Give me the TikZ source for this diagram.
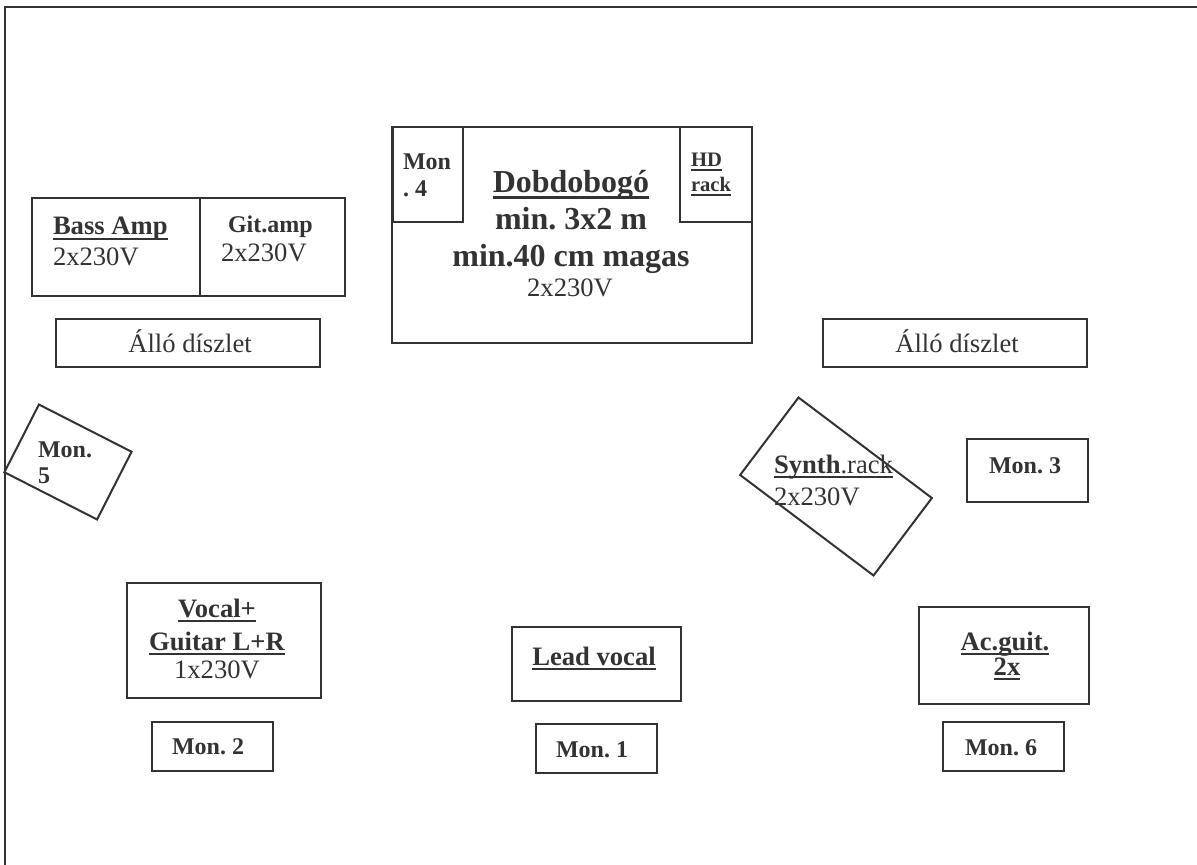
\documentclass[tikz,border=0pt]{standalone}
\usepackage{fontspec}
\setmainfont{Liberation Serif}
\frenchspacing
\definecolor{ink}{gray}{0.2}
% underline that sits just below the baseline, like the word processor one
\newcommand\undl[1]{\setbox0\hbox{#1}\rlap{\rule[-0.18em]{\wd0}{0.08em}}\box0}

\begin{document}
\begin{tikzpicture}[%
    x=0.5pt, y=-0.5pt,          % work in the pixels of the plan, y going down
    line width=1pt,
    draw=ink, text=ink,
    ]
% -------------------------------------------------
% Box and label styles
\tikzset{
  box/.style={draw, rectangle, inner sep=0pt},
  lbl/.style={inner sep=0pt, anchor=base, font=\fontsize{13.3}{16}\selectfont},
  lbll/.style={lbl, anchor=base west},
  bld/.style={lbl, font=\fontsize{13.3}{16}\selectfont\bfseries},
  bldl/.style={bld, anchor=base west},
  mon/.style={lbl, font=\fontsize{12}{14}\selectfont\bfseries},
  monl/.style={mon, anchor=base west},
  big/.style={lbl, font=\fontsize{16}{19}\selectfont\bfseries},
}
\useasboundingbox (0,0) rectangle (1197,865);
% frame of the stage (only top and left are shown)
\draw (5,865) -- (5,7) -- (1197,7);

% -------------------------------------------------
% Drum riser with its two corner boxes
\node [box, minimum width=180pt, minimum height=108pt] (riser) at (572,235) {};
\node [box, minimum width=35pt, minimum height=47.5pt] (mon4) at (428,174.5) {};
\node [box, minimum width=36pt, minimum height=47.5pt] (hdrack) at (716,174.5) {};
\node [big] (riser1) at (571,193) {\undl{Dobdobogó}};
\node [big] (riser2) at (571,230) {min. 3x2 m};
\node [big] (riser3) at (571,267) {min.40 cm magas};
\node [lbl] (riser4) at (570,297) {2x230V};
\node [monl] (mon4a) at (402,170) {Mon};
\node [monl] (mon4b) at (402,197) {. 4};
\node [lbl, anchor=base west, font=\fontsize{10.3}{12}\selectfont\bfseries]
  (hd1) at (690,167) {\undl{HD}};
\node [lbl, anchor=base west, font=\fontsize{10.3}{12}\selectfont\bfseries]
  (hd2) at (690,192) {\undl{rack}};

% -------------------------------------------------
% Amps on the left
\node [box, minimum width=84pt, minimum height=49pt] (bass) at (116,247) {};
\node [box, minimum width=72.5pt, minimum height=49pt] (git) at (272.5,247) {};
\node [bldl] (bass1) at (52,235) {\undl{Bass Amp}};
\node [lbll] (bass2) at (52,266) {2x230V};
\node [monl] (git1) at (227,233) {Git.amp};
\node [lbll] (git2) at (220,262) {2x230V};

% Standing scenery
\node [box, minimum width=132pt, minimum height=24pt] (decl) at (188,343) {};
\node [lbl] (decltxt) at (190,353) {Álló díszlet};
\node [box, minimum width=132pt, minimum height=24pt] (decr) at (955,343) {};
\node [lbl] (decrtxt) at (957,353) {Álló díszlet};

% -------------------------------------------------
% Tilted boxes, text stays level
\node [box, minimum width=52pt, minimum height=38pt, rotate=-27] (mon5) at (68,462) {};
\node [monl] (mon5a) at (37,457) {Mon.};
\node [monl] (mon5b) at (37,483) {5};
\node [box, minimum width=83.5pt, minimum height=48.5pt, rotate=-37] (synth) at (836,486.5) {};
\node [lbll] (synth1) at (773,473) {\undl{\textbf{Synth}.rack}};
\node [lbll] (synth2) at (773,505) {2x230V};

\node [box, minimum width=60.5pt, minimum height=31.5pt] (mon3) at (1027.5,470.5) {};
\node [mon] (mon3txt) at (1025,473) {Mon. 3};

% -------------------------------------------------
% Front line: players and their monitors
\node [box, minimum width=97pt, minimum height=57.5pt] (vocal) at (224,640.5) {};
\node [bld] (vocal1) at (217,617) {\undl{Vocal+}};
\node [bld] (vocal2) at (217,650) {\undl{Guitar L+R}};
\node [lbl] (vocal3) at (217,678) {1x230V};

\node [box, minimum width=84.5pt, minimum height=37pt] (lead) at (596.5,664) {};
\node [bld] (leadtxt) at (594,665) {\undl{Lead vocal}};

\node [box, minimum width=85pt, minimum height=48.5pt] (acg) at (1004,655.5) {};
\node [bld] (acg1) at (1005,650) {\undl{Ac.guit.}};
\node [bld] (acg2) at (1007,675) {\undl{2x}};

\foreach \n/\bx/\by/\tx in {2/212/746/208, 1/596.5/748.5/592, 6/1003.5/746.5/1001}{
  \node [box, minimum width=60.5pt, minimum height=24.5pt] (mon\n) at (\bx,\by) {};
  \node [mon] (mon\n txt) at (\tx,\by+8.5) {Mon. \n};
}
% -------------------------------------------------
\end{tikzpicture}
\end{document}
